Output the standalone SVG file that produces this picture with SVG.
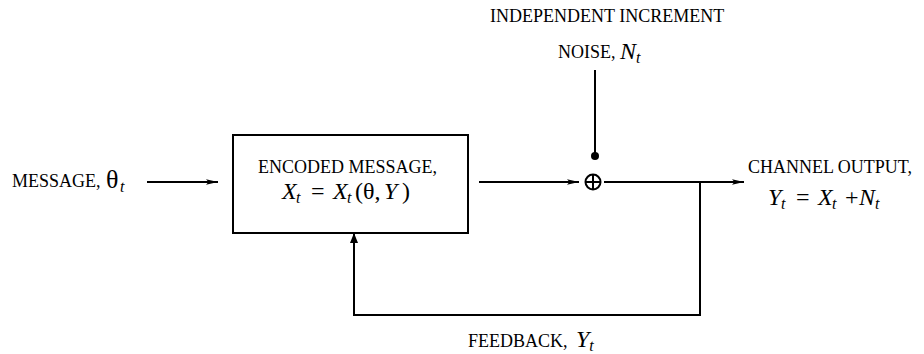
<svg xmlns="http://www.w3.org/2000/svg" width="924" height="354" viewBox="0 0 924 354">
<style>
text{font-family:"Liberation Serif","Times New Roman",serif;fill:#000}
.lbl{font-size:18px}
.m{font-size:24px;font-style:italic}
.sub{font-size:16px;font-style:italic}
.up{font-style:normal}
.ln{stroke:#000;stroke-width:2;fill:none}
</style>
<defs>
<marker id="ah" viewBox="0 0 12 8" refX="12" refY="4" markerWidth="12" markerHeight="8" markerUnits="userSpaceOnUse" orient="auto">
<path d="M0,1.2 L12,4 L0,6.8 L2.5,4 Z" fill="#000"/>
</marker>
</defs>
<rect width="924" height="354" fill="#fff"/>
<g id="message">
<text class="lbl" x="12" y="187">MESSAGE,</text>
<text class="m up" x="106" y="188" style="font-size:26px">θ</text>
<text class="sub" x="120" y="192">t</text>
</g>
<g id="encoder">
<rect x="233" y="135" width="235" height="98" class="ln"/>
<text class="lbl" x="258" y="173">ENCODED MESSAGE,</text>
<text class="m" y="199"><tspan x="282">X</tspan><tspan class="sub" x="296" dy="4">t</tspan><tspan class="up" x="311" dy="-4">=</tspan><tspan x="333">X</tspan><tspan class="sub" x="347" dy="4">t</tspan><tspan class="up" x="355" dy="-4">(θ,</tspan><tspan x="384">Y</tspan><tspan class="up" x="402">)</tspan></text>
</g>
<g id="noise">
<text class="lbl" x="558" y="58">NOISE,</text>
<text class="lbl" x="490" y="22">INDEPENDENT INCREMENT</text>
<text class="m" x="620" y="59">N<tspan class="sub" dy="4">t</tspan></text>
</g>
<g id="sum">
<circle cx="593" cy="182" r="7.5" class="ln"/>
<line x1="585.5" y1="182" x2="600.5" y2="182" class="ln"/>
<line x1="593" y1="174.5" x2="593" y2="189.5" class="ln"/>
</g>
<g id="output">
<text class="lbl" x="748" y="173">CHANNEL OUTPUT,</text>
<text class="m" y="205"><tspan x="768">Y</tspan><tspan class="sub" x="781" dy="4">t</tspan><tspan class="up" x="796" dy="-4">=</tspan><tspan x="818">X</tspan><tspan class="sub" x="832" dy="4">t</tspan><tspan class="up" x="845" dy="-4">+</tspan><tspan x="859">N</tspan><tspan class="sub" x="875" dy="4">t</tspan></text>
</g>
<g id="feedback">
<text class="lbl" x="468" y="347">FEEDBACK,</text>
<text class="m" x="576" y="347">Y<tspan class="sub" dy="4">t</tspan></text>
</g>
<g id="connectors">
<line x1="147" y1="182" x2="218" y2="182" class="ln" marker-end="url(#ah)"/>
<line x1="479" y1="182" x2="579" y2="182" class="ln" marker-end="url(#ah)"/>
<line x1="595" y1="70" x2="595" y2="154" class="ln"/>
<circle cx="595" cy="156" r="4" fill="#000"/>
<line x1="604" y1="182" x2="744" y2="182" class="ln" marker-end="url(#ah)"/>
<polyline points="700,182 700,315 354,315 354,233" class="ln"/>
<path d="M354,233 L350,243 L358,243 Z" fill="#000"/>
</g>
</svg>
